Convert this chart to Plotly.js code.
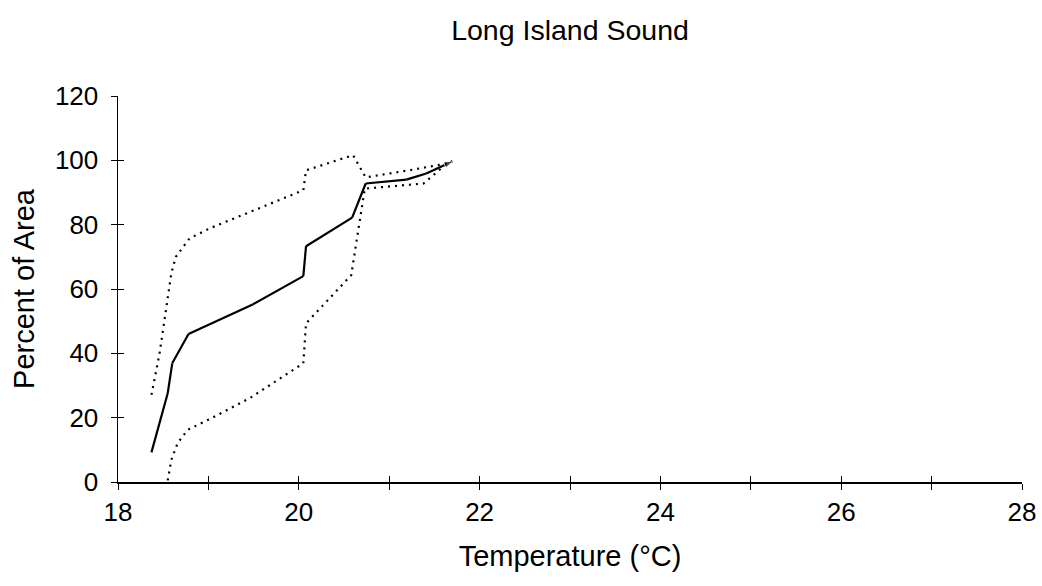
<!DOCTYPE html>
<html>
<head>
<meta charset="utf-8">
<script src="https://cdn.plot.ly/plotly-3.0.1.min.js"></script>
<style>html,body{margin:0;padding:0;background:#fff;}#chart{width:1042px;height:586px;}</style>
</head>
<body>
<div id="chart"></div>
<script>
// Mean curve (solid)
const meanTemp = [18.37, 18.55, 18.60, 18.78, 19.49, 20.05, 20.08, 20.59, 20.74, 21.19, 21.41, 21.63, 21.71];
const meanArea = [9.2, 27.6, 36.9, 46.0, 55.2, 64.0, 73.3, 82.2, 92.8, 94.0, 95.9, 98.8, 99.8];
// Upper bound (dotted)
const upperTemp = [18.37, 18.46, 18.59, 18.64, 18.79, 19.01, 20.05, 20.08, 20.60, 20.74, 21.26, 21.63, 21.70];
const upperArea = [27.1, 40.0, 64.9, 70.0, 75.7, 78.8, 90.7, 96.9, 101.6, 94.7, 97.1, 99.0, 99.8];
// Lower bound (dotted)
const lowerTemp = [18.55, 18.59, 18.66, 18.77, 19.01, 19.46, 20.05, 20.08, 20.58, 20.73, 21.38, 21.63, 21.71];
const lowerArea = [0.5, 6.9, 12.1, 16.2, 19.5, 26.1, 36.9, 49.3, 64.3, 91.2, 92.8, 98.8, 99.8];

const xTickVals = [18, 20, 22, 24, 26, 28];
const yTickVals = [0, 20, 40, 60, 80, 100, 120];

const FONT = 'Liberation Sans, Arial, sans-serif';

const markerSizes = meanTemp.map((_, i) => i === meanTemp.length - 1 ? 10 : 0);

const traces = [
  {x: upperTemp, y: upperArea, type: 'scatter', mode: 'lines',
   line: {color: '#000', width: 2.2, dash: '2px,5px'}, hoverinfo: 'skip'},
  {x: lowerTemp, y: lowerArea, type: 'scatter', mode: 'lines',
   line: {color: '#000', width: 2.2, dash: '2px,5px'}, hoverinfo: 'skip'},
  {x: meanTemp, y: meanArea, type: 'scatter', mode: 'lines+markers',
   line: {color: '#000', width: 2.2},
   marker: {symbol: 'arrow', angleref: 'previous', size: markerSizes, color: '#000'}, hoverinfo: 'skip'},
  {x: [18], y: [0], xaxis: 'x2', yaxis: 'y2', type: 'scatter', mode: 'markers',
   marker: {opacity: 0}, hoverinfo: 'skip'}
];

const tickFont = {family: FONT, size: 26, color: '#000'};
const titleFont = {family: FONT, size: 29, color: '#000'};
const layout = {
  width: 1042, height: 586,
  margin: {l: 118, r: 20, t: 96, b: 104},
  paper_bgcolor: '#fff', plot_bgcolor: '#fff',
  showlegend: false,
  title: {text: 'Long Island Sound', font: {family: FONT, size: 28.5, color: '#000'},
          x: 0.5, xref: 'paper', y: 1 - 30/586, yref: 'container', yanchor: 'middle'},
  xaxis: {range: [18, 28], tickvals: xTickVals, ticks: 'outside', ticklen: 6, tickwidth: 1,
          tickcolor: '#000', showline: true, linecolor: '#000', linewidth: 1.5,
          showgrid: false, zeroline: false, tickfont: tickFont,
          minor: {dtick: 1, tick0: 18, ticks: 'outside', ticklen: 6, tickcolor: '#000', showgrid: false},
          title: {text: 'Temperature (°C)', font: titleFont, standoff: 20}},
  yaxis: {range: [0, 120], tickvals: yTickVals, ticks: 'outside', ticklen: 6, tickwidth: 1,
          tickcolor: '#000', showline: true, linecolor: '#000', linewidth: 1.5,
          showgrid: false, zeroline: false, tickfont: tickFont, ticklabelstandoff: 7,
          title: {text: 'Percent of Area', font: titleFont, standoff: 12}},
  xaxis2: {range: [18, 28], overlaying: 'x', anchor: 'y', tickvals: xTickVals, ticks: 'inside', ticklen: 6,
           tickcolor: '#000', showticklabels: false, showline: false, showgrid: false, zeroline: false,
           minor: {dtick: 1, tick0: 18, ticks: 'inside', ticklen: 6, tickcolor: '#000', showgrid: false}},
  yaxis2: {range: [0, 120], overlaying: 'y', anchor: 'x', side: 'left', tickvals: yTickVals, ticks: 'inside',
           ticklen: 6, tickcolor: '#000', showticklabels: false, showline: false, showgrid: false, zeroline: false}
};

Plotly.newPlot('chart', traces, layout, {staticPlot: true, displayModeBar: false});
</script>
</body>
</html>
